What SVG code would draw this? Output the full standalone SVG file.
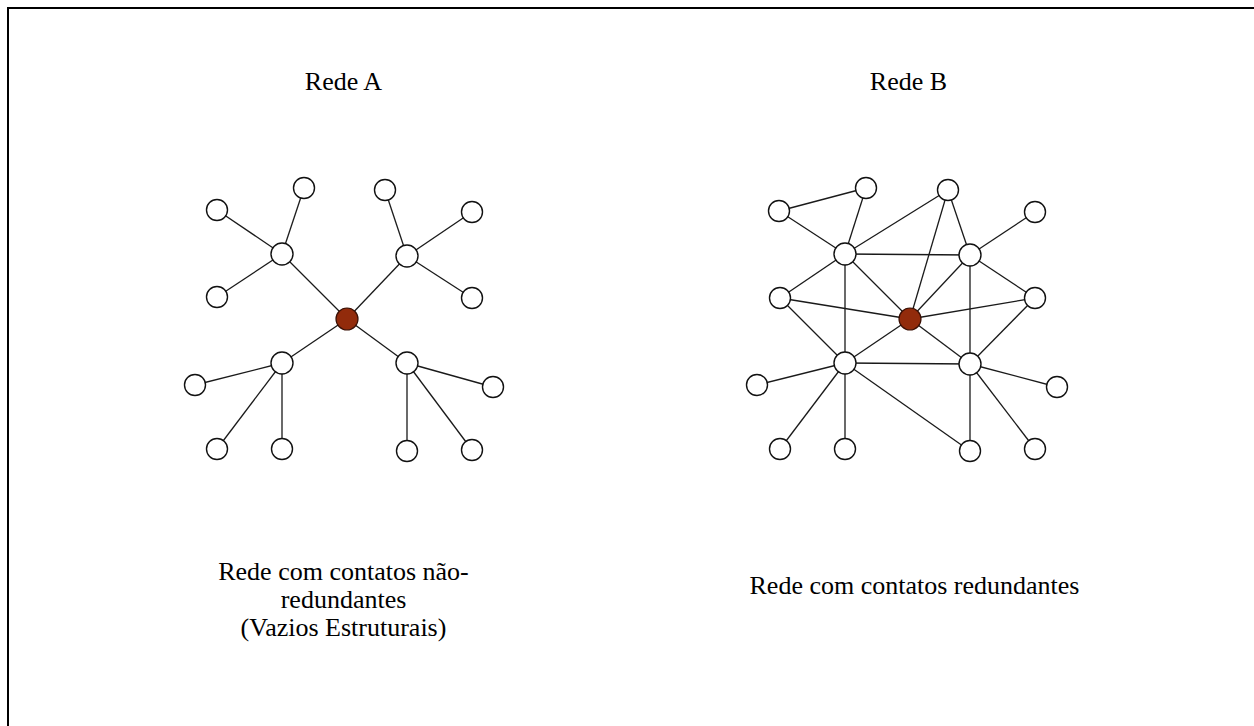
<svg xmlns="http://www.w3.org/2000/svg" width="1254" height="726" viewBox="0 0 1254 726">
  <style>
    .frame { fill: none; stroke: #000; stroke-width: 2; }
    .edge { stroke: #1a1a1a; stroke-width: 1.3; fill: none; }
    .node { fill: #fff; stroke: #111; stroke-width: 1.4; }
    .ego { fill: #922b0b; stroke: #3a1005; stroke-width: 1.2; }
    .label { font-family: "Liberation Serif", "Times New Roman", serif; font-size: 26px; fill: #000; text-anchor: middle; }
  </style>

  <rect width="1254" height="726" fill="#fff"/>
  <path class="frame" d="M8,726 V8 H1254"/>

  <!-- Network A: star of hubs, no cross links -->
  <g id="connectors-a">
    <line class="edge" x1="347" y1="319" x2="282" y2="254"/>
    <line class="edge" x1="347" y1="319" x2="407" y2="256"/>
    <line class="edge" x1="347" y1="319" x2="282" y2="363"/>
    <line class="edge" x1="347" y1="319" x2="407" y2="363"/>
    <line class="edge" x1="282" y1="254" x2="304" y2="188"/>
    <line class="edge" x1="282" y1="254" x2="217" y2="210"/>
    <line class="edge" x1="282" y1="254" x2="217" y2="297"/>
    <line class="edge" x1="407" y1="256" x2="385" y2="190"/>
    <line class="edge" x1="407" y1="256" x2="472" y2="212"/>
    <line class="edge" x1="407" y1="256" x2="472" y2="298"/>
    <line class="edge" x1="282" y1="363" x2="195" y2="385"/>
    <line class="edge" x1="282" y1="363" x2="217" y2="449"/>
    <line class="edge" x1="282" y1="363" x2="282" y2="449"/>
    <line class="edge" x1="407" y1="363" x2="407" y2="451"/>
    <line class="edge" x1="407" y1="363" x2="472" y2="450"/>
    <line class="edge" x1="407" y1="363" x2="493" y2="387"/>
  </g>
  <g id="nodes-a">
    <circle id="a-center" class="ego" cx="347" cy="319" r="11"/>
    <circle id="a-hub-ul" class="node" cx="282" cy="254" r="11"/>
    <circle id="a-hub-ur" class="node" cx="407" cy="256" r="11"/>
    <circle id="a-hub-ll" class="node" cx="282" cy="363" r="11"/>
    <circle id="a-hub-lr" class="node" cx="407" cy="363" r="11"/>
    <circle id="a-leaf-1" class="node" cx="304" cy="188" r="10.5"/>
    <circle id="a-leaf-2" class="node" cx="217" cy="210" r="10.5"/>
    <circle id="a-leaf-3" class="node" cx="217" cy="297" r="10.5"/>
    <circle id="a-leaf-4" class="node" cx="385" cy="190" r="10.5"/>
    <circle id="a-leaf-5" class="node" cx="472" cy="212" r="10.5"/>
    <circle id="a-leaf-6" class="node" cx="472" cy="298" r="10.5"/>
    <circle id="a-leaf-7" class="node" cx="195" cy="385" r="10.5"/>
    <circle id="a-leaf-8" class="node" cx="217" cy="449" r="10.5"/>
    <circle id="a-leaf-9" class="node" cx="282" cy="449" r="10.5"/>
    <circle id="a-leaf-10" class="node" cx="407" cy="451" r="10.5"/>
    <circle id="a-leaf-11" class="node" cx="472" cy="450" r="10.5"/>
    <circle id="a-leaf-12" class="node" cx="493" cy="387" r="10.5"/>
  </g>

  <!-- Network B: same layout with redundant links -->
  <g id="connectors-b">
    <line class="edge" x1="779" y1="211" x2="866" y2="188"/>
    <line class="edge" x1="779" y1="211" x2="845" y2="254"/>
    <line class="edge" x1="866" y1="188" x2="845" y2="254"/>
    <line class="edge" x1="845" y1="254" x2="948" y2="190"/>
    <line class="edge" x1="948" y1="190" x2="910" y2="319"/>
    <line class="edge" x1="948" y1="190" x2="970" y2="255"/>
    <line class="edge" x1="845" y1="254" x2="970" y2="255"/>
    <line class="edge" x1="845" y1="254" x2="910" y2="319"/>
    <line class="edge" x1="845" y1="254" x2="845" y2="363"/>
    <line class="edge" x1="845" y1="254" x2="780" y2="298"/>
    <line class="edge" x1="780" y1="298" x2="910" y2="319"/>
    <line class="edge" x1="780" y1="298" x2="845" y2="363"/>
    <line class="edge" x1="970" y1="255" x2="1035" y2="212"/>
    <line class="edge" x1="970" y1="255" x2="910" y2="319"/>
    <line class="edge" x1="970" y1="255" x2="1035" y2="298"/>
    <line class="edge" x1="970" y1="255" x2="970" y2="364"/>
    <line class="edge" x1="910" y1="319" x2="1035" y2="298"/>
    <line class="edge" x1="1035" y1="298" x2="970" y2="364"/>
    <line class="edge" x1="910" y1="319" x2="845" y2="363"/>
    <line class="edge" x1="910" y1="319" x2="970" y2="364"/>
    <line class="edge" x1="845" y1="363" x2="970" y2="364"/>
    <line class="edge" x1="845" y1="363" x2="757" y2="385"/>
    <line class="edge" x1="845" y1="363" x2="780" y2="449"/>
    <line class="edge" x1="845" y1="363" x2="845" y2="449"/>
    <line class="edge" x1="845" y1="363" x2="970" y2="451"/>
    <line class="edge" x1="970" y1="364" x2="970" y2="451"/>
    <line class="edge" x1="970" y1="364" x2="1057" y2="387"/>
    <line class="edge" x1="970" y1="364" x2="1035" y2="449"/>
  </g>
  <g id="nodes-b">
    <circle id="b-center" class="ego" cx="910" cy="319" r="11"/>
    <circle id="b-hub-ul" class="node" cx="845" cy="254" r="11"/>
    <circle id="b-hub-ur" class="node" cx="970" cy="255" r="11"/>
    <circle id="b-hub-ll" class="node" cx="845" cy="363" r="11"/>
    <circle id="b-hub-lr" class="node" cx="970" cy="364" r="11"/>
    <circle id="b-leaf-1" class="node" cx="866" cy="188" r="10.5"/>
    <circle id="b-leaf-2" class="node" cx="779" cy="211" r="10.5"/>
    <circle id="b-leaf-3" class="node" cx="780" cy="298" r="10.5"/>
    <circle id="b-leaf-4" class="node" cx="948" cy="190" r="10.5"/>
    <circle id="b-leaf-5" class="node" cx="1035" cy="212" r="10.5"/>
    <circle id="b-leaf-6" class="node" cx="1035" cy="298" r="10.5"/>
    <circle id="b-leaf-7" class="node" cx="757" cy="385" r="10.5"/>
    <circle id="b-leaf-8" class="node" cx="780" cy="449" r="10.5"/>
    <circle id="b-leaf-9" class="node" cx="845" cy="449" r="10.5"/>
    <circle id="b-leaf-10" class="node" cx="970" cy="451" r="10.5"/>
    <circle id="b-leaf-11" class="node" cx="1035" cy="449" r="10.5"/>
    <circle id="b-leaf-12" class="node" cx="1057" cy="387" r="10.5"/>
  </g>

  <!-- Titles and captions -->
  <g id="labels">
    <text class="label" x="343.5" y="90">Rede A</text>
    <text class="label" x="908.5" y="90">Rede B</text>
    <text class="label" x="343.5" y="580">Rede com contatos não-</text>
    <text class="label" x="343.5" y="608">redundantes</text>
    <text class="label" x="343.5" y="636">(Vazios Estruturais)</text>
    <text class="label" x="914.5" y="594">Rede com contatos redundantes</text>
  </g>
</svg>
